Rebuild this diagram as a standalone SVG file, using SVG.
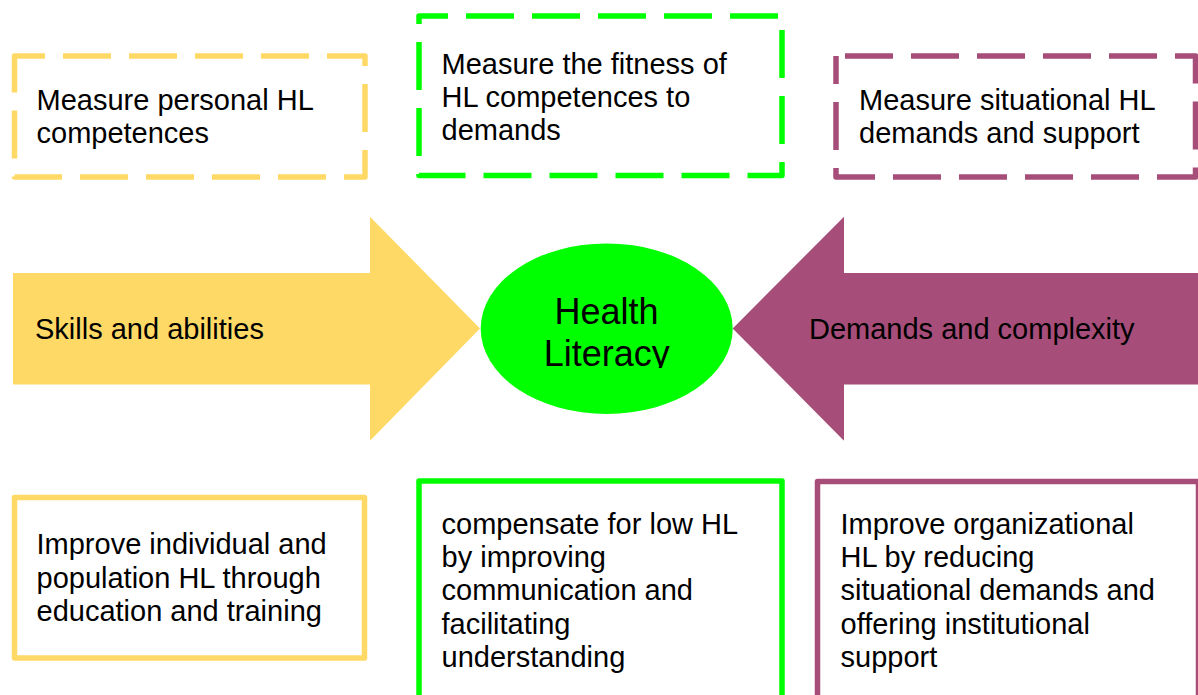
<svg xmlns="http://www.w3.org/2000/svg" width="1198" height="695" viewBox="0 0 1198 695">
  <defs>
    <style>
      .txt { font-family: "Liberation Sans", Arial, sans-serif; font-size: 29px; fill: #000; }
      .big { font-family: "Liberation Sans", Arial, sans-serif; font-size: 36px; fill: #000; text-anchor: middle; }
      .box { fill: #fff; stroke-width: 5.5; stroke-linejoin: round; }
      .dash { stroke-dasharray: 48 18; }
      .yellow { stroke: #FFD966; }
      .green { stroke: #00FF00; }
      .maroon { stroke: #A64D79; }
    </style>
    <!-- the label box of the centre shape cuts off the descender of the second line -->
    <clipPath id="hl-clip">
      <rect x="480" y="240" width="254" height="128"/>
    </clipPath>
  </defs>

  <rect x="0" y="0" width="1198" height="695" fill="#fff"/>

  <!-- block arrows pointing into the centre -->
  <g id="connectors">
    <g id="arrow-skills">
      <polygon points="13,273 370,273 370,216.7 480,328.5 370,440.7 370,384.5 13,384.5" fill="#FFD966"/>
      <text class="txt" x="35" y="338.5">Skills and abilities</text>
    </g>
    <g id="arrow-demands">
      <polygon points="1198,273 844,273 844,216.7 732.7,328.5 844,440.7 844,384.5 1198,384.5" fill="#A64D79"/>
      <text class="txt" x="809" y="338.5">Demands and complexity</text>
    </g>
  </g>

  <!-- centre -->
  <g id="health-literacy">
    <ellipse cx="606.7" cy="328.7" rx="126" ry="85.3" fill="#00FF00"/>
    <g clip-path="url(#hl-clip)">
      <text class="big" x="606.5" y="323.5">Health</text>
      <text class="big" x="606.7" y="366">Literacy</text>
    </g>
  </g>

  <!-- measurement boxes (dashed) -->
  <g id="measure-personal">
    <rect class="box dash yellow" x="14.5" y="56" width="350.5" height="121" stroke-dashoffset="17.5"/>
    <text class="txt" x="36.5" y="110">Measure personal HL</text>
    <text class="txt" x="36.5" y="143">competences</text>
  </g>

  <g id="measure-fitness">
    <rect class="box dash green" x="419" y="16" width="363" height="159.5" stroke-dashoffset="19"/>
    <text class="txt" x="441.5" y="73.5">Measure the fitness of</text>
    <text class="txt" x="441.5" y="106.5">HL competences to</text>
    <text class="txt" x="441.5" y="139.5">demands</text>
  </g>

  <g id="measure-situational">
    <rect class="box dash maroon" x="836" y="56" width="359.5" height="121" stroke-dashoffset="57"/>
    <text class="txt" x="859" y="110">Measure situational HL</text>
    <text class="txt" x="859" y="143">demands and support</text>
  </g>

  <!-- intervention boxes (solid) -->
  <g id="improve-individual">
    <rect class="box yellow" x="14.5" y="497.5" width="350" height="160.5"/>
    <text class="txt" x="36.5" y="554">Improve individual and</text>
    <text class="txt" x="36.5" y="587.5">population HL through</text>
    <text class="txt" x="36.5" y="621">education and training</text>
  </g>

  <g id="compensate">
    <rect class="box green" x="419" y="481" width="363" height="300"/>
    <text class="txt" x="441.5" y="533.5">compensate for low HL</text>
    <text class="txt" x="441.5" y="567">by improving</text>
    <text class="txt" x="441.5" y="600">communication and</text>
    <text class="txt" x="441.5" y="633.5">facilitating</text>
    <text class="txt" x="441.5" y="667">understanding</text>
  </g>

  <g id="improve-organizational">
    <rect class="box maroon" x="817.5" y="481.5" width="381" height="300"/>
    <text class="txt" x="840.5" y="533.5">Improve organizational</text>
    <text class="txt" x="840.5" y="567">HL by reducing</text>
    <text class="txt" x="840.5" y="600">situational demands and</text>
    <text class="txt" x="840.5" y="633.5">offering institutional</text>
    <text class="txt" x="840.5" y="667">support</text>
  </g>
</svg>
